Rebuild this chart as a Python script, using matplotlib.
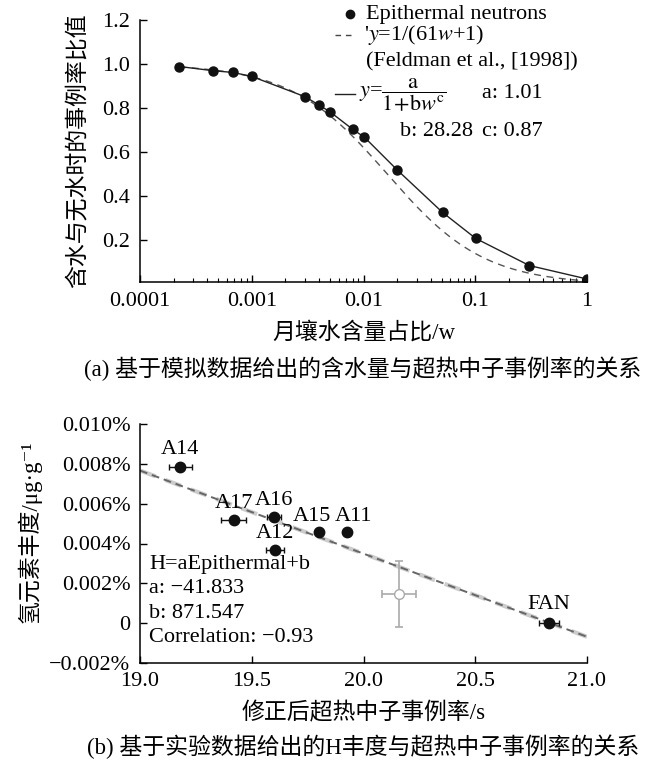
import numpy as np
import matplotlib
matplotlib.use("Agg")
import matplotlib.pyplot as plt
from matplotlib.lines import Line2D

plt.rcParams['font.family'] = ['Liberation Serif', 'Noto Sans CJK SC', 'DejaVu Serif']
plt.rcParams['mathtext.fontset'] = 'stix'
plt.rcParams['axes.unicode_minus'] = True

# ---------------- data : panel (a) ----------------
w_water = [0.000225, 0.00045, 0.00068, 0.001, 0.003, 0.004, 0.005,
           0.008, 0.0102, 0.02, 0.051, 0.101, 0.305, 1.0]
ratio = [0.989, 0.970, 0.962, 0.944, 0.852, 0.814, 0.784,
         0.704, 0.668, 0.520, 0.327, 0.209, 0.086, 0.025]
feldman_k = 61  # y = 1/(61w+1)
a_ticks = [0.0001, 0.001, 0.01, 0.1, 1]
a_ticklabels = ['0.0001', '0.001', '0.01', '0.1', '1']
a_yticks = [0.2, 0.4, 0.6, 0.8, 1.0, 1.2]

# ---------------- data : panel (b) ----------------
sites = ['A14', 'A17', 'A16', 'A15', 'A11', 'A12', 'FAN']
epi_rate = [19.181, 19.419, 19.601, 19.800, 19.925, 19.604, 20.830]
h_abund = [0.00787, 0.00519, 0.00531, 0.00457, 0.00457, 0.00368, 0.0]
epi_err = [0.053, 0.056, 0.031, 0.0, 0.0, 0.042, 0.045]
label_off = [(0, 12), (0, 12), (0, 12), (-5, 11), (5, 11), (0, 12), (0, 13)]
gray_pt = (20.16, 0.00147)
gray_xerr = 0.075
gray_yerr = 0.00166
fit_a, fit_b = -41.833, 871.547   # H (ug/g) = a*Epithermal + b
b_yticks = [-0.002, 0.0, 0.002, 0.004, 0.006, 0.008, 0.010]
b_yticklabels = ['\u22120.002%', '0', '0.002%', '0.004%', '0.006%', '0.008%', '0.010%']
b_xticks = [19.0, 19.5, 20.0, 20.5, 21.0]

W, H = 650, 769
fig = plt.figure(figsize=(6.5, 7.69), dpi=100)
fs = 16


def px(x, y):
    # pixel (from top-left) -> figure fraction
    return x / W, 1 - y / H


def style_axes(ax):
    ax.spines['top'].set_visible(False)
    ax.spines['right'].set_visible(False)
    for s in ('left', 'bottom'):
        ax.spines[s].set_linewidth(1.1)
    ax.tick_params(which='major', direction='in', length=5, width=1, labelsize=fs, pad=7)
    ax.tick_params(which='minor', direction='in', length=3, width=0.8)


# ================= (a) =================
ax1 = fig.add_axes([140 / W, 1 - 282.3 / H, 447 / W, 262.3 / H])
style_axes(ax1)
ax1.set_xscale('log')
w_curve = np.logspace(np.log10(w_water[0]), 0, 300)
ax1.plot(w_curve, 1 / (feldman_k * w_curve + 1), ls=(0, (5, 4)), color='#555555', lw=1)
ax1.plot(w_water, ratio, '-o', color='#222222', lw=1, ms=6.5, mfc='#111111', mec='#111111')
ax1.set_xlim(1e-4, 1)
ax1.set_ylim(0.01, 1.2)
ax1.set_xticks(a_ticks)
ax1.set_xticklabels(a_ticklabels)
ax1.set_yticks(a_yticks)
ax1.set_yticklabels(['%.1f' % v for v in a_yticks])
ax1.set_xlabel('月壤水含量占比/w', fontsize=16.5, va='center')
ax1.xaxis.set_label_coords(0.5, (282.3 - 333) / 262.3)
ax1.set_ylabel('含水与无水时的事例率比值', fontsize=16.5, va='center')
ax1.yaxis.set_label_coords((78 - 140) / 447, 0.5)

# legend block
fig.add_artist(Line2D([px(350, 14)[0]], [px(350, 14)[1]], marker='o', color='#111111', ms=6, ls='none'))
fig.text(*px(366, 14), 'Epithermal neutrons', fontsize=fs, va='center')
fig.add_artist(Line2D([px(335, 0)[0], px(355, 0)[0]], [px(0, 35)[1]] * 2,
                      ls=(0, (4, 3.5)), color='#444444', lw=1))
fig.text(*px(364, 35), "'$y$=1/(61$w$+1)", fontsize=fs, va='center')
fig.text(*px(366, 62), '(Feldman et al., [1998])', fontsize=fs, va='center')
fig.add_artist(Line2D([px(335, 0)[0], px(355, 0)[0]], [px(0, 94)[1]] * 2,
                      ls='-', color='#222222', lw=1))
fig.text(*px(359, 95), r'$y$=$\dfrac{\mathrm{a}}{1\!+\!\mathrm{b}w^{\mathrm{c}}}$', fontsize=fs, va='center')
fig.text(*px(482, 94), 'a: 1.01', fontsize=fs, va='center')
fig.text(*px(400, 132), 'b: 28.28', fontsize=fs, va='center')
fig.text(*px(482, 132), 'c: 0.87', fontsize=fs, va='center')

fig.text(*px(363, 369), '(a) 基于模拟数据给出的含水量与超热中子事例率的关系',
         fontsize=16.5, ha='center', va='center')

# ================= (b) =================
ax2 = fig.add_axes([140 / W, 1 - 662.7 / H, 447 / W, 238.4 / H])
style_axes(ax2)
x_fit = np.array([19.0, 21.0])
ax2.plot(x_fit, (fit_a * x_fit + fit_b) / 1e4, ls=(0, (4, 2.5)), color='#cccccc', lw=3)
ax2.plot(x_fit, (fit_a * x_fit + fit_b) / 1e4, ls=(0, (4, 2.5)), color='#666666', lw=1.4)
ax2.errorbar(epi_rate, h_abund, xerr=epi_err, fmt='o', color='#111111', ms=7.5,
             capsize=2.5, elinewidth=1, capthick=1)
ax2.errorbar([gray_pt[0]], [gray_pt[1]], xerr=gray_xerr, yerr=gray_yerr, fmt='o',
             color='#aaaaaa', mfc='white', mec='#aaaaaa', ms=7, capsize=3,
             elinewidth=1.2, capthick=1.2)
for name, x, y, off in zip(sites, epi_rate, h_abund, label_off):
    ax2.annotate(name, (x, y), xytext=off, textcoords='offset points',
                 ha='center', va='center', fontsize=fs)
ax2.set_xlim(19.0, 21.0)
ax2.set_ylim(-0.002, 0.010)
ax2.set_xticks(b_xticks)
ax2.set_xticklabels(['%.1f' % v for v in b_xticks])
ax2.set_yticks(b_yticks)
ax2.set_yticklabels(b_yticklabels)
ax2.set_xlabel('修正后超热中子事例率/s', fontsize=16.5, va='center')
ax2.xaxis.set_label_coords(0.5, (662.7 - 713.3) / 238.4)
ax2.set_ylabel('氢元素丰度/μg·g\u207b\u00b9', fontsize=16.5, va='center')
ax2.yaxis.set_label_coords((29 - 140) / 447, 0.55)

fit_lines = ['H=aEpithermal+b', 'a: \u221241.833', 'b: 871.547', 'Correlation: \u22120.93']
for i, t in enumerate(fit_lines):
    fig.text(*px(149, 564.3 + 24.5 * i), t, fontsize=fs, va='center')

fig.text(*px(363, 746.7), '(b) 基于实验数据给出的H丰度与超热中子事例率的关系',
         fontsize=16.5, ha='center', va='center')

fig.savefig('out.png', dpi=100)
